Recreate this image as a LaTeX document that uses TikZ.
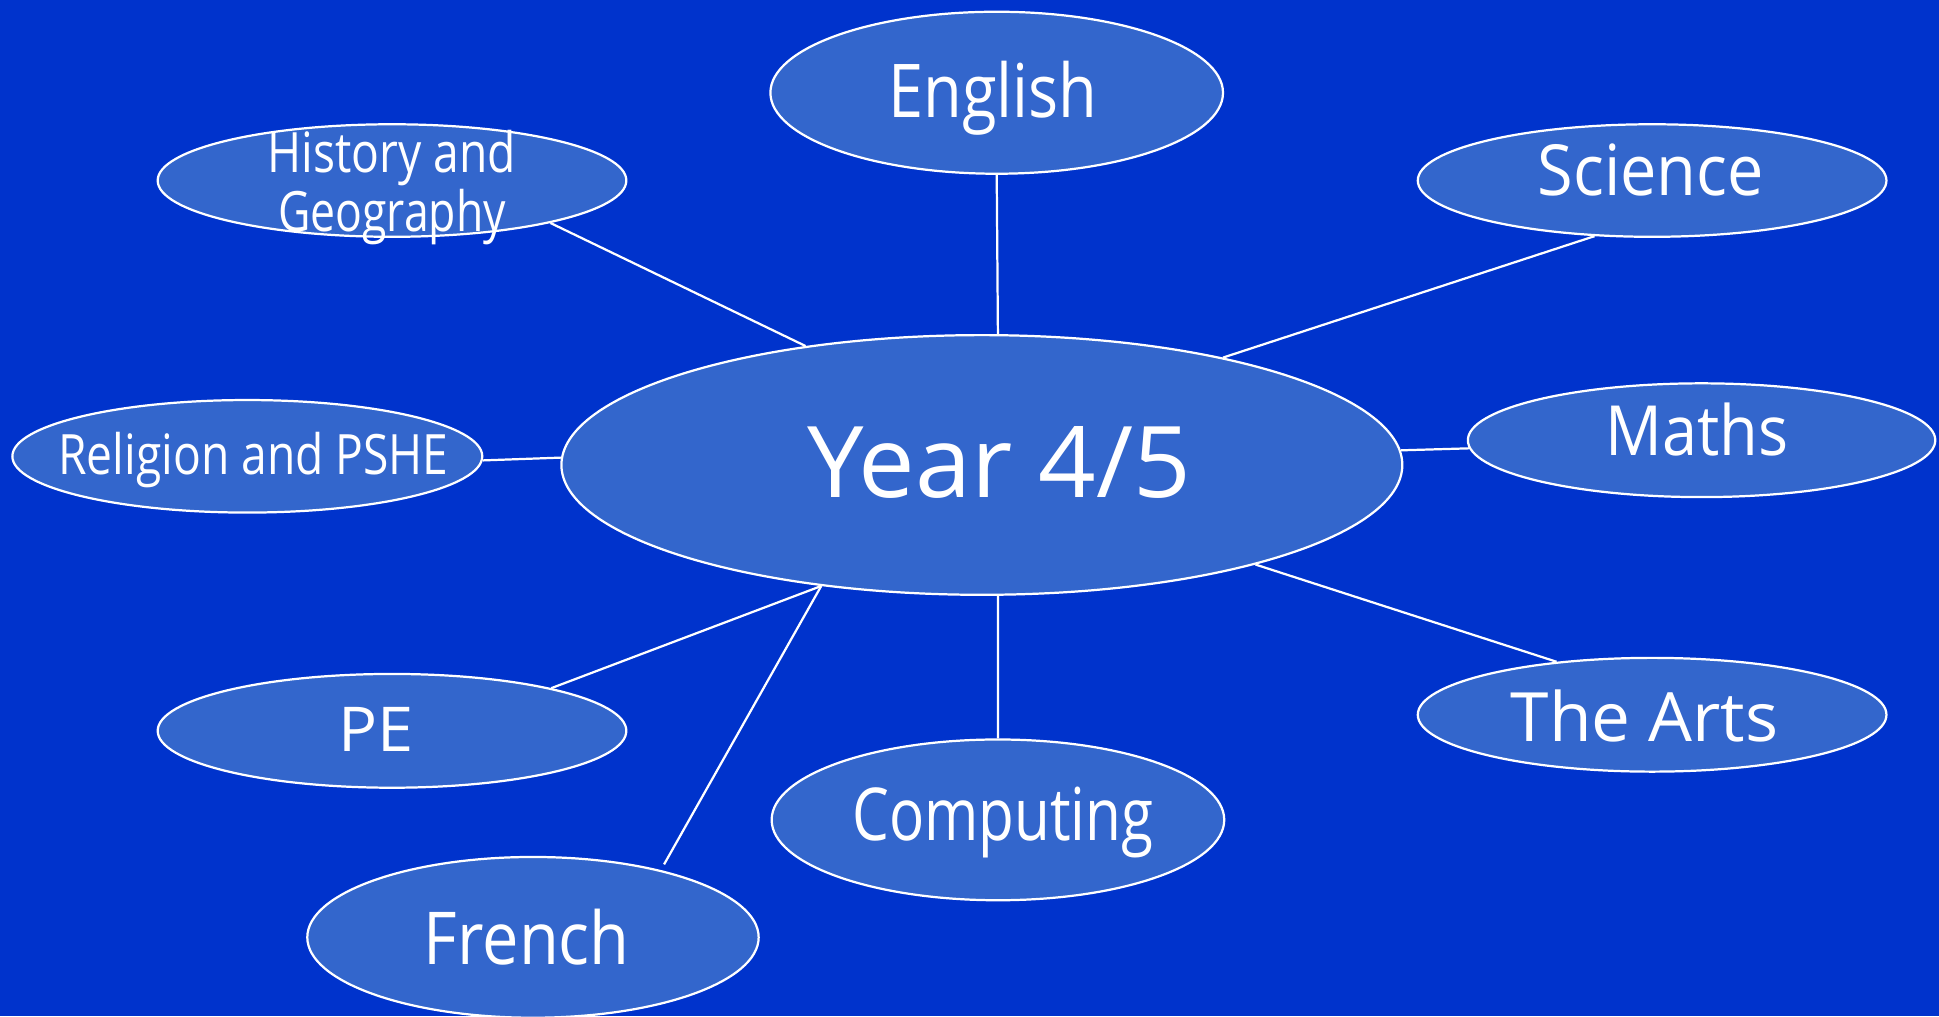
\documentclass[tikz,border=0pt]{standalone}
\usepackage{fontspec}
\setmainfont{Open Sans}
\usetikzlibrary{shapes.geometric}
\definecolor{bgblue}{RGB}{0,51,204}
\definecolor{bubblue}{RGB}{51,102,204}
\tikzset{
  bub/.style={ellipse, draw=white, line width=1.8pt, fill=bubblue, inner sep=0pt},
  lbl/.style={text=white, inner sep=0pt, text depth=0pt, align=center},
  link/.style={draw=white, line width=1.8pt}
}
\begin{document}
\begin{tikzpicture}[x=1pt,y=1pt]
\useasboundingbox (0,0) rectangle (1568,822);
\fill[bgblue] (0,0) rectangle (1568,822);
\begin{scope}
\clip (0,0) rectangle (1568,822);
% bubbles
\node[bub, minimum width=680pt, minimum height=210pt] (cen) at (794,446) {};
\node[bub, minimum width=366pt, minimum height=131pt] (eng) at (806,747) {};
\node[bub, minimum width=379pt, minimum height=91pt] (sci) at (1336,676) {};
\node[bub, minimum width=379pt, minimum height=91pt] (his) at (317,676) {};
\node[bub, minimum width=380pt, minimum height=91pt] (rel) at (200,453) {};
\node[bub, minimum width=378pt, minimum height=92pt] (mat) at (1376,466) {};
\node[bub, minimum width=379pt, minimum height=92pt] (pe) at (317,231) {};
\node[bub, minimum width=379pt, minimum height=92pt] (art) at (1336,244) {};
\node[bub, minimum width=366pt, minimum height=130pt] (com) at (807,159) {};
\node[bub, minimum width=365pt, minimum height=130pt] (fre) at (431,64) {};
\coordinate (freend) at (537,123);
% links
\draw[link] (eng.south) -- (cen.83);
\draw[link] (sci.224) -- (cen.24);
\draw[link] (his.345) -- (cen.146);
\draw[link] (rel.-1.2) -- (cen.179.7);
\draw[link] (mat.182.1) -- (cen.2.4);
\draw[link] (art.151) -- (cen.340);
\draw[link] (com.north) -- (cen.-83);
\draw[link] (pe.15) -- (cen.217);
\draw[link] (freend) -- (cen.217);
% labels
\node[lbl, font=\fontsize{80}{96}\selectfont, text height=57pt] (cent) at (808,448.5) {\scalebox{1.02}[1]{Year 4/5}};
\node[lbl, font=\fontsize{60}{72}\selectfont, text height=43pt] (engt) at (803,748.5) {\scalebox{0.85}[1]{English}};
\node[lbl, font=\fontsize{57}{68}\selectfont, text height=41pt] (scit) at (1335,684.5) {\scalebox{0.92}[1]{Science}};
\node[lbl, font=\fontsize{56}{67}\selectfont, text height=40pt] (matt) at (1372,474) {\scalebox{0.91}[1]{Maths}};
\node[lbl, font=\fontsize{55}{66}\selectfont, text height=39pt] (artt) at (1330,242) {\scalebox{1.02}[1]{The Arts}};
\node[lbl, font=\fontsize{59}{70}\selectfont, text height=42pt] (comt) at (811,163) {\scalebox{0.80}[1]{Computing}};
\node[lbl, font=\fontsize{59}{70}\selectfont, text height=42pt] (fret) at (426,63) {\scalebox{0.89}[1]{French}};
\node[lbl, font=\fontsize{50}{60}\selectfont, text height=36pt] (pet) at (304,232) {\scalebox{1.05}[1]{PE}};
\node[lbl, font=\fontsize{45}{54}\selectfont, text height=32pt] (relt) at (205,454) {\scalebox{0.83}[1]{Religion and PSHE}};
\node[lbl, font=\fontsize{45}{54}\selectfont, text height=32pt] (hist1) at (317,698.5) {\scalebox{0.83}[1]{History and}};
\node[lbl, font=\fontsize{45}{54}\selectfont, text height=32pt] (hist2) at (317,650.5) {\scalebox{0.80}[1]{Geography}};
\end{scope}
\end{tikzpicture}
\end{document}
